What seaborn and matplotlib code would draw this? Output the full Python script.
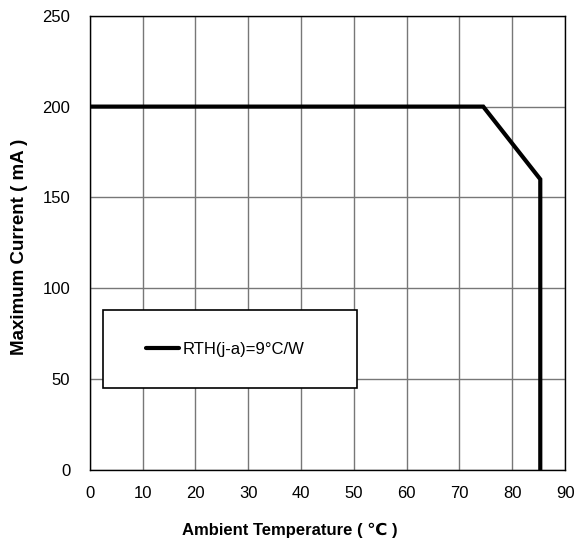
import matplotlib
matplotlib.use("Agg")
import matplotlib.pyplot as plt
import seaborn as sns
import pandas as pd
from matplotlib.patches import Rectangle

# derating curve
temperature = [0, 74.5, 85.3, 85.3]
current = [200, 200, 160, 0]
series_label = "RTH(j-a)=9°C/W"

x_ticks = [0, 10, 20, 30, 40, 50, 60, 70, 80, 90]
y_ticks = [0, 50, 100, 150, 200, 250]

df = pd.DataFrame({"temp": temperature, "current": current})

sns.set_style("white")
plt.rcParams["font.family"] = ["Liberation Sans", "DejaVu Sans"]
plt.rcParams["text.color"] = "black"
plt.rcParams["axes.labelcolor"] = "black"
plt.rcParams["xtick.color"] = "black"
plt.rcParams["ytick.color"] = "black"

fig = plt.figure(figsize=(5.79, 5.45), dpi=100)
ax = fig.add_axes([0.155, 0.138, 0.821, 0.833])

ax.plot(df["temp"], df["current"], color="black", linewidth=3,
        solid_joinstyle="miter", label=series_label, zorder=3)

ax.set_xlim(0, 90)
ax.set_ylim(0, 250)
ax.set_xticks(x_ticks)
ax.set_yticks(y_ticks)
ax.grid(True, color="#777777", linewidth=1)
ax.set_axisbelow(True)
for s in ax.spines.values():
    s.set_color("black")
    s.set_linewidth(1)
ax.tick_params(axis="both", length=0, labelsize=12)
ax.tick_params(axis="x", pad=12)
ax.tick_params(axis="y", pad=14)

ax.set_xlabel("Ambient Temperature ( ℃ )", fontsize=12, fontweight="bold")
ax.set_ylabel("Maximum Current ( mA )", fontsize=13.5, fontweight="bold")
ax.xaxis.set_label_coords(0.42, -0.117)
ax.yaxis.set_label_coords(-0.13, 0.49)

# legend box
box = Rectangle((0.027, 0.181), 0.535, 0.171, transform=ax.transAxes,
                facecolor="white", edgecolor="black", linewidth=1.2, zorder=4)
ax.add_patch(box)
leg = ax.legend(loc="center", bbox_to_anchor=(0.285, 0.266), frameon=False,
                fontsize=12, handlelength=2.0, handletextpad=0.2)
leg.set_zorder(5)

fig.savefig("out.png", dpi=100)
